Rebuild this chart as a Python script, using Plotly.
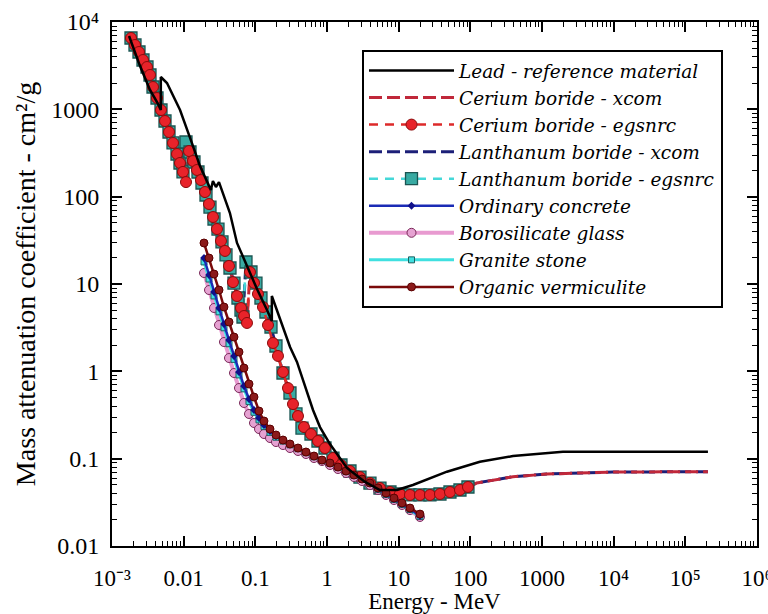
import plotly.graph_objects as go

# ---------------- data (energy in MeV, mass attenuation coefficient in cm2/g) -------------
lead_E = [0.00173, 0.00246, 0.00339, 0.00425, 0.0048, 0.0048, 0.00585, 0.0089, 0.01305, 0.0169,
          0.0240, 0.0256, 0.0282, 0.0311, 0.0442, 0.0555, 0.0766, 0.1055, 0.1456, 0.170,
          0.170, 0.243, 0.305, 0.381, 0.493, 0.638, 0.798, 1.10, 1.90, 3.39,
          5.48, 9.48, 15.8, 27.4, 47.2, 136, 394, 1960, 9770, 2.07e5]
lead_mu = [6920, 3130, 1665, 1213, 982, 2345, 2003, 982, 411, 224,
           119, 151, 129, 147, 65, 29.5, 16.1, 8.77, 5.04, 3.77,
           7.29, 3.30, 1.90, 1.28, 0.697, 0.361, 0.230, 0.147, 0.0782, 0.0541,
           0.0438, 0.0438, 0.0499, 0.060, 0.0709, 0.0923, 0.107, 0.120, 0.120, 0.120]

ce_E = [0.001841, 0.002094, 0.002380, 0.002707, 0.003079, 0.003391, 0.003734, 0.004245, 0.004828, 0.005490,
        0.006243, 0.007099, 0.008072, 0.008888, 0.009786, 0.01078, 0.01187, 0.01350, 0.01535, 0.01745,
        0.01984, 0.02257, 0.02566, 0.02917, 0.03318, 0.03773, 0.04290, 0.04879, 0.05547, 0.06308,
        0.06948, 0.07648, 0.08424, 0.09579, 0.1089, 0.1279, 0.1502, 0.1764, 0.2071, 0.2432,
        0.2856, 0.3354, 0.3937, 0.4775, 0.5978, 0.7485, 0.9376, 1.212, 1.567, 2.093,
        2.886, 3.979, 5.487, 7.566, 10.43, 14.39, 19.84, 27.35, 37.72, 52.02,
        71.72, 92.72]
ce_mu = [6558, 5453, 4534, 3671, 3052, 2474, 1802, 1348, 982, 735,
         550, 412, 308, 243, 192, 147, 333, 256, 202, 155,
         113, 82.4, 58.5, 42.6, 31.1, 23.9, 16.1, 10.5, 7.29, 5.31,
         4.30, 3.58, 13.7, 10.3, 7.68, 5.45, 3.39, 2.11, 1.50, 0.982,
         0.644, 0.422, 0.308, 0.230, 0.1915, 0.1593, 0.1324, 0.1017, 0.0846, 0.0722,
         0.0616, 0.0526, 0.0461, 0.0415, 0.0394, 0.0384, 0.0384, 0.0384, 0.0394, 0.0415,
         0.0438, 0.0474]

la_E = [0.001841, 0.002094, 0.002380, 0.002707, 0.003079, 0.003391, 0.003734, 0.004245, 0.004828, 0.005490,
        0.006243, 0.007099, 0.008072, 0.008888, 0.009786, 0.01078, 0.01226, 0.01393, 0.01585, 0.01802,
        0.02049, 0.02330, 0.02650, 0.03013, 0.03426, 0.03896, 0.04430, 0.05038, 0.05729, 0.06308,
        0.06727, 0.07408, 0.08700, 0.1021, 0.1199, 0.1408, 0.1654, 0.1942, 0.2432, 0.3045,
        0.3693, 0.4477, 0.5978, 0.7485, 0.9376, 1.212, 1.567, 2.093, 2.886, 3.979,
        5.487, 7.566, 10.43, 14.39, 19.84, 27.35, 37.72, 52.02, 71.72, 92.72]
la_mu = [6558, 5453, 4534, 3671, 3052, 2474, 1802, 1348, 982, 735,
         550, 412, 308, 243, 192, 422.5, 324.7, 249.4, 191.6, 143.4,
         104.5, 76.1, 55.5, 42.6, 30.3, 21.5, 15.25, 10.26, 6.91, 5.04,
         4.19, 17.86, 13.72, 10.26, 6.91, 4.78, 3.22, 1.95, 0.957, 0.565,
         0.325, 0.224, 0.1915, 0.1593, 0.1324, 0.1017, 0.0846, 0.0722, 0.0616, 0.0526,
         0.0461, 0.0415, 0.0394, 0.0384, 0.0384, 0.0384, 0.0394, 0.0415, 0.0438, 0.0474]

# xcom continuation above 100 MeV
xcom_ext_E = [122.6, 393.7, 1162, 9781, 2.07e5]
xcom_ext_mu = [0.0526, 0.0621, 0.0667, 0.0703, 0.0709]

mat_E = [0.01922, 0.02257, 0.02650, 0.03112, 0.03653, 0.04290, 0.05038, 0.05916, 0.06948, 0.08157,
         0.09579, 0.1125, 0.1321, 0.1602, 0.1942, 0.2432, 0.3045, 0.3937, 0.5091, 0.6586,
         0.8514, 1.101, 1.423, 1.841, 2.380, 3.077, 3.979, 5.146, 6.655, 8.603,
         11.12, 14.39, 19.84]
concrete_mu = [19.85, 12.68, 8.096, 5.311, 3.483, 2.284, 1.497, 0.982, 0.679, 0.482,
               0.3607, 0.2920, 0.2428, 0.2073, 0.1817, 0.1635, 0.1472, 0.1324, 0.1192, 0.1072,
               0.0965, 0.0892, 0.0803, 0.0722, 0.0650, 0.0585, 0.0526, 0.0449, 0.0394, 0.0345,
               0.0303, 0.0265, 0.0220]
glass_mu = [13.36, 8.535, 5.311, 3.391, 2.166, 1.421, 0.957, 0.644, 0.434, 0.325,
            0.256, 0.2185, 0.1915, 0.1724, 0.1551, 0.1433, 0.1324, 0.1224, 0.1130, 0.1017,
            0.0940, 0.0846, 0.0761, 0.0685, 0.0616, 0.0555, 0.0499, 0.0438, 0.0384, 0.0336,
            0.0295, 0.0258, 0.0215]
granite_mu = [17.9, 11.4, 7.3, 4.8, 3.15, 2.07, 1.37, 0.91, 0.63, 0.45,
              0.34, 0.278, 0.233, 0.200, 0.176, 0.159, 0.144, 0.130, 0.117, 0.105,
              0.095, 0.088, 0.079, 0.071, 0.064, 0.0578, 0.052, 0.0445, 0.039, 0.0342,
              0.030, 0.0262, 0.0218]
verm_mu = [29.47, 19.85, 13.01, 8.535, 5.451, 3.671, 2.472, 1.664, 1.091, 0.716,
           0.508, 0.351, 0.270, 0.2185, 0.1866, 0.1635, 0.1472, 0.1324, 0.1192, 0.1072,
           0.0965, 0.0892, 0.0803, 0.0722, 0.0650, 0.0585, 0.0526, 0.0461, 0.0404, 0.0354,
           0.0311, 0.0272, 0.0232]

x_tickvals = [1e-3, 1e-2, 1e-1, 1, 10, 100, 1000, 1e4, 1e5, 1e6]
x_ticktext = ["10\u207b\u00b3", "0.01", "0.1", "1", "10", "100", "1000",
              "10\u2074", "10\u2075", "10\u2076"]
y_tickvals = [1e-2, 1e-1, 1, 10, 100, 1000, 1e4]
y_ticktext = ["0.01", "0.1", "1", "10", "100", "1000", "10\u2074"]

FONT = "Liberation Serif"

fig = go.Figure()

fig.add_trace(go.Scatter(x=la_E + xcom_ext_E, y=la_mu + xcom_ext_mu, mode="lines",
                         line=dict(color="#1c1f78", width=3, dash="13px,5px"),
                         name="Lanthanum boride - xcom", legendrank=4))
fig.add_trace(go.Scatter(x=ce_E + xcom_ext_E, y=ce_mu + xcom_ext_mu, mode="lines",
                         line=dict(color="#c0283a", width=3, dash="13px,5px"),
                         name="Cerium boride - xcom", legendrank=2))
fig.add_trace(go.Scatter(x=la_E, y=la_mu, mode="lines+markers",
                         line=dict(color="#45d8d8", width=2.5, dash="9px,7px"),
                         marker=dict(symbol="square", size=12, color="#38aaa2",
                                     line=dict(color="#1b5552", width=1.3)),
                         name="Lanthanum boride - egsnrc", legendrank=5))
fig.add_trace(go.Scatter(x=ce_E, y=ce_mu, mode="lines+markers",
                         line=dict(color="#dd2a2a", width=2.5, dash="9px,7px"),
                         marker=dict(symbol="circle", size=11, color="#e8232a",
                                     line=dict(color="#8b0a0a", width=1)),
                         name="Cerium boride - egsnrc", legendrank=3))
fig.add_trace(go.Scatter(x=mat_E, y=glass_mu, mode="lines+markers",
                         line=dict(color="#e89ad0", width=4),
                         marker=dict(symbol="circle", size=9, color="#e6a2d2",
                                     line=dict(color="#7a2a5a", width=1)),
                         name="Borosilicate glass", legendrank=7))
fig.add_trace(go.Scatter(x=mat_E, y=granite_mu, mode="lines+markers",
                         line=dict(color="#3fe0e0", width=3),
                         marker=dict(symbol="square", size=6, color="#40e0e0",
                                     line=dict(color="#1f6060", width=1)),
                         name="Granite stone", legendrank=8))
fig.add_trace(go.Scatter(x=mat_E, y=concrete_mu, mode="lines+markers",
                         line=dict(color="#1a2bb5", width=2.5),
                         marker=dict(symbol="diamond", size=6, color="#10108a"),
                         name="Ordinary concrete", legendrank=6))
fig.add_trace(go.Scatter(x=mat_E, y=verm_mu, mode="lines+markers",
                         line=dict(color="#7a0a0a", width=2.5),
                         marker=dict(symbol="circle", size=8, color="#8b1a1a",
                                     line=dict(color="#5a0000", width=1)),
                         name="Organic vermiculite", legendrank=9))
fig.add_trace(go.Scatter(x=lead_E, y=lead_mu, mode="lines",
                         line=dict(color="black", width=2.5),
                         name="Lead - reference material", legendrank=1))

axis_common = dict(
    type="log", showline=True, linewidth=2, linecolor="black", mirror="allticks",
    ticks="inside", ticklen=10, tickwidth=1.5, tickcolor="black",
    showgrid=False, zeroline=False, automargin=False,
    tickmode="array", ticklabeloverflow="allow",
)

x_minor = [m * 10.0 ** k for k in range(-3, 6) for m in range(2, 10)]
y_minor = [m * 10.0 ** k for k in range(-2, 4) for m in range(2, 10)]

fig.update_xaxes(**axis_common, range=[-3, 6.0005], tickvals=x_tickvals, ticktext=x_ticktext,
                 tickfont=dict(family=FONT, size=23, color="black"),
                 ticklabelstandoff=10,
                 minor=dict(tickmode="array", tickvals=x_minor, ticks="inside", ticklen=5,
                            tickcolor="black", tickwidth=1, showgrid=False),
                 title=dict(text="Energy - MeV", font=dict(family=FONT, size=23, color="black"),
                            standoff=7))
fig.update_yaxes(**axis_common, range=[-2, 4], tickvals=y_tickvals, ticktext=y_ticktext,
                 tickfont=dict(family=FONT, size=24, color="black"),
                 ticklabelstandoff=6,
                 minor=dict(tickmode="array", tickvals=y_minor, ticks="inside", ticklen=5,
                            tickcolor="black", tickwidth=1, showgrid=False),
                 title=dict(text="Mass attenuation coefficient - cm\u00b2/g",
                            font=dict(family=FONT, size=28, color="black"), standoff=7))

fig.update_layout(
    width=768, height=614,
    margin=dict(l=112, r=11, t=22, b=68),
    paper_bgcolor="white", plot_bgcolor="white",
    showlegend=True,
    legend=dict(x=0.3876, y=0.9466, xanchor="left", yanchor="top",
                bgcolor="white", bordercolor="black", borderwidth=2,
                font=dict(family="DejaVu Serif", size=18.5, color="black", style="italic"),
                itemwidth=85, tracegroupgap=0),
)

fig.write_html("out.html")
